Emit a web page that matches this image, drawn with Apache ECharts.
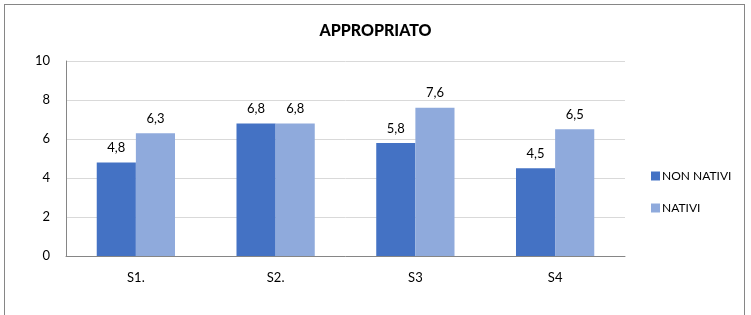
<!DOCTYPE html>
<html>
<head>
<meta charset="utf-8">
<script src="https://cdn.jsdelivr.net/npm/echarts@6/dist/echarts.min.js"></script>
<style>
  html, body { margin:0; padding:0; background:#fff; }
  #frame { position:absolute; left:4px; top:4px; width:739px; height:330px; border:1px solid #868686; border-bottom:none; }
  #myChart { position:absolute; left:0; top:0; width:751px; height:315px; }
</style>
</head>
<body>
<div id="frame"></div>
<div id="myChart"></div>
<script>
var categories = ['S1.', 'S2.', 'S3', 'S4'];
var seriesNames = ['NON NATIVI', 'NATIVI'];
var nonNativi = [4.8, 6.8, 5.8, 4.5];
var nativi = [6.3, 6.8, 7.6, 6.5];
var yTicks = [0, 2, 4, 6, 8, 10];

var fontFam = 'Lato, "Open Sans", sans-serif';
var myChart = echarts.init(document.getElementById('myChart'));

function fmt(p){ return String(p.value).replace('.', ','); }

var option = {
    animation:false,
    title:{
        text:'APPROPRIATO',
        left:'center',
        top:18,
        textStyle:{ fontSize:16, fontWeight:900, color:'#000', fontFamily:fontFam }
    },
    legend:{
        orient:'vertical',
        left:646,
        top:165,
        itemGap:20,
        itemWidth:9,
        itemHeight:9,
        icon:'rect',
        textStyle:{ fontSize:12, color:'#000', fontFamily:fontFam, padding:[0,0,0,-3] },
        data:seriesNames
    },
    grid:{ left:66, top:61, width:559, height:195, containLabel:false },
    xAxis:{
        type:'category',
        data:categories,
        axisLine:{ show:true, lineStyle:{ color:'#868686', width:1 } },
        axisTick:{ show:false },
        axisLabel:{ fontSize:13, color:'#000', margin:15, fontFamily:fontFam }
    },
    yAxis:{
        type:'value',
        min:yTicks[0],
        max:yTicks[yTicks.length-1],
        interval:2,
        axisLine:{ show:true, lineStyle:{ color:'#868686', width:1 } },
        axisTick:{ show:false },
        splitLine:{ lineStyle:{ color:'#d9d9d9', width:1 } },
        axisLabel:{ fontSize:13, color:'#000', margin:16, fontFamily:fontFam }
    },
    series:[
        {
            name:seriesNames[0],
            type:'bar',
            data:nonNativi,
            barGap:'0%',
            barCategoryGap:'44%',
            itemStyle:{ color:'#4472c4' },
            label:{ show:true, position:'top', distance:8, fontSize:13, color:'#000', fontFamily:fontFam, formatter:fmt }
        },
        {
            name:seriesNames[1],
            type:'bar',
            data:nativi,
            barGap:'0%',
            barCategoryGap:'44%',
            itemStyle:{ color:'#8faadc' },
            label:{ show:true, position:'top', distance:8, fontSize:13, color:'#000', fontFamily:fontFam, formatter:fmt }
        }
    ]
};
myChart.setOption(option);
</script>
</body>
</html>
